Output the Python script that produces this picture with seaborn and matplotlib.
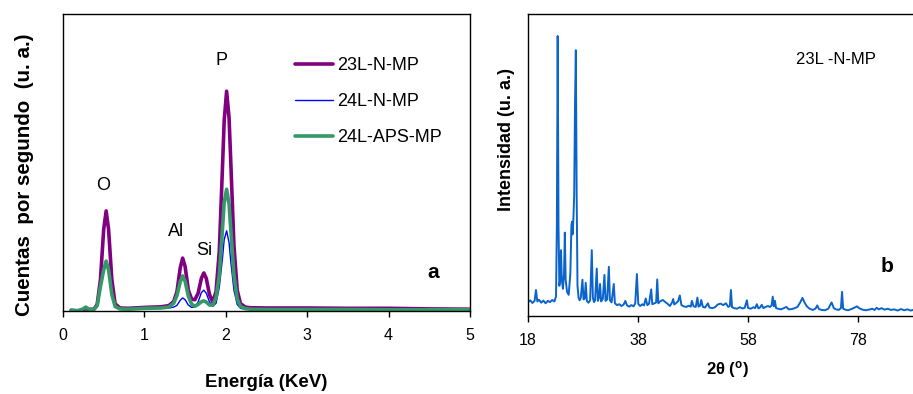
import numpy as np
import pandas as pd
import matplotlib
matplotlib.use("Agg")
import matplotlib.pyplot as plt
import seaborn as sns

# ==========================================
# EDS spectra (panel a) - counts in arbitrary units
# ==========================================
energy = [0.10, 0.18, 0.24, 0.28, 0.32, 0.38, 0.42, 0.46, 0.50, 0.53,
          0.56, 0.60, 0.64, 0.70, 0.80, 1.00, 1.20, 1.30, 1.36, 1.40,
          1.44, 1.47, 1.50, 1.54, 1.58, 1.62, 1.66, 1.70, 1.73, 1.76,
          1.80, 1.84, 1.88, 1.92, 1.96, 1.98, 2.01, 2.04, 2.06, 2.10,
          2.14, 2.18, 2.24, 2.30, 2.50, 3.00, 3.50, 4.00, 4.50, 5.00]

cps_23L_N = [0.2, 0.0, 0.3, 0.8, 0.5, 0.6, 2.2, 10.5, 27.5, 33.7,
             27.5, 10.5, 2.4, 1.0, 0.9, 1.2, 1.4, 1.8, 3.2, 6.5,
             14.5, 17.8, 15.0, 7.0, 4.0, 3.8, 6.0, 11.0, 12.8, 11.0,
             5.5, 3.0, 6.5, 20.0, 49.0, 64.0, 74.0, 65.0, 51.0, 22.0,
             7.0, 2.5, 1.3, 1.1, 1.0, 1.0, 0.9, 0.9, 0.7, 0.6]

cps_24L_N = [0.1, 0.0, 0.4, 1.0, 0.4, 0.5, 1.8, 8.0, 13.5, 16.5,
             13.5, 5.5, 1.5, 0.7, 0.6, 0.8, 0.9, 1.0, 1.3, 1.9,
             3.6, 4.4, 3.8, 2.0, 1.2, 1.4, 3.0, 6.2, 7.0, 6.0,
             3.0, 1.6, 2.6, 8.0, 18.0, 24.0, 27.0, 23.0, 17.0, 7.0,
             2.2, 0.9, 0.6, 0.5, 0.4, 0.4, 0.4, 0.4, 0.3, 0.3]

cps_24L_APS = [0.3, 0.1, 0.6, 1.3, 0.6, 0.5, 1.8, 8.2, 13.8, 16.8,
               13.8, 5.6, 1.5, 0.7, 0.6, 0.9, 1.0, 1.3, 2.6, 5.2,
               9.8, 11.8, 10.0, 5.0, 2.3, 1.6, 2.2, 3.1, 3.4, 3.0,
               2.0, 2.0, 4.5, 12.0, 28.0, 36.5, 41.0, 36.0, 28.0, 12.0,
               4.0, 1.5, 0.8, 0.6, 0.5, 0.5, 0.5, 0.4, 0.4, 0.4]

eds_names = ["23L-N-MP", "24L-N-MP", "24L-APS-MP"]
eds_colors = ["#800080", "#0000FF", "#339966"]
eds_widths = [2.6, 1.0, 2.6]

peak_labels = ["O", "Al", "Si", "P"]
peak_label_pos = [(0.49, 42.4), (1.39, 26.6), (1.73, 20.2), (1.95, 84.2)]

# ==========================================
# XRD pattern (panel b) - 23L-N-MP
# ==========================================
two_theta = [
    18.0, 18.4, 18.8, 19.2, 19.45, 19.7, 20.0, 20.4, 20.8, 21.2,
    21.6, 22.0, 22.4, 22.8, 23.1, 23.25, 23.4, 23.55, 23.7, 23.85,
    24.0, 24.15, 24.35, 24.55, 24.7, 24.85, 25.1, 25.4, 25.7, 25.9,
    26.0, 26.1, 26.25, 26.4, 26.55, 26.7, 26.85, 27.0, 27.2, 27.4,
    27.6, 27.9, 28.1, 28.3, 28.5, 28.7, 29.0, 29.3, 29.6, 29.8,
    30.0, 30.2, 30.5, 30.7, 30.9, 31.1, 31.3, 31.6, 31.9, 32.1,
    32.4, 32.7, 32.9, 33.2, 33.6, 33.8, 34.2, 34.6, 35.0, 35.4,
    35.7, 36.0, 36.4, 36.8, 37.2, 37.5, 37.8, 38.05, 38.4, 38.8,
    39.1, 39.4, 39.7, 40.0, 40.4, 40.6, 41.0, 41.3, 41.5, 41.7,
    42.0, 42.5, 43.0, 43.4, 43.8, 44.2, 44.4, 44.6, 45.0, 45.3,
    45.6, 45.9, 46.3, 46.8, 47.2, 47.6, 47.8, 48.1, 48.5, 48.8,
    49.0, 49.3, 49.5, 49.8, 50.2, 50.7, 51.0, 51.5, 52.0, 52.5,
    53.0, 53.5, 54.0, 54.4, 54.7, 54.9, 55.1, 55.5, 56.0, 56.5,
    57.0, 57.4, 57.8, 58.0, 58.5, 59.0, 59.3, 59.6, 59.9, 60.2,
    60.5, 60.8, 61.2, 61.6, 62.0, 62.3, 62.5, 62.7, 62.9, 63.1,
    63.5, 64.0, 64.5, 65.0, 65.4, 66.0, 66.5, 67.0, 67.5, 67.9,
    68.3, 68.7, 69.2, 69.8, 70.3, 70.6, 70.9, 71.4, 72.0, 72.6,
    73.2, 73.6, 74.0, 74.5, 74.9, 75.1, 75.3, 75.7, 76.2, 76.8,
    77.4, 77.8, 78.2, 78.8, 79.4, 80.0, 80.6, 81.0, 81.4, 81.8,
    82.3, 82.8, 83.4, 84.0, 84.6, 85.2, 85.8, 86.4, 87.0, 87.6,
    88.0, 88.6,
]
intensity = [
    4.5, 5.2, 4.3, 5.0, 8.6, 4.8, 5.4, 4.4, 5.1, 4.2,
    5.0, 4.6, 5.3, 4.8, 6.5, 30.0, 92.7, 30.0, 10.0, 12.0,
    21.8, 12.0, 9.0, 14.0, 27.6, 12.0, 8.0, 7.0, 14.0, 30.0,
    31.2, 27.0, 32.0, 40.0, 70.0, 88.0, 40.0, 10.0, 6.0, 5.2,
    6.0, 12.0, 5.5, 5.8, 11.0, 5.0, 4.4, 5.2, 21.8, 6.0,
    4.6, 5.2, 15.7, 5.0, 6.0, 10.6, 4.8, 5.6, 13.6, 5.0,
    5.5, 16.3, 5.2, 4.5, 10.6, 4.2, 3.6, 3.9, 3.3, 3.8,
    5.0, 3.5, 3.1, 3.6, 3.2, 4.2, 13.9, 4.0, 3.3, 3.9,
    3.5, 5.8, 3.6, 4.0, 8.8, 3.9, 4.2, 4.5, 12.1, 4.2,
    4.8, 5.3, 4.6, 4.0, 3.3, 4.5, 5.6, 3.8, 4.4, 4.9,
    6.8, 3.6, 3.2, 3.0, 3.4, 3.1, 5.0, 3.2, 3.0, 6.1,
    3.1, 3.4, 5.3, 3.0, 2.8, 4.2, 2.8, 2.6, 2.9, 3.8,
    4.1, 3.6, 4.2, 3.0, 3.3, 8.6, 2.9, 2.6, 2.4, 2.9,
    2.5, 2.7, 5.2, 2.7, 2.4, 2.9, 2.6, 3.9, 2.5, 2.8,
    3.7, 2.6, 3.0, 3.3, 3.0, 3.5, 6.4, 3.2, 5.0, 2.6,
    2.4, 2.2, 2.6, 3.0, 2.2, 2.3, 2.6, 3.0, 4.5, 6.0,
    4.4, 3.2, 2.4, 2.0, 2.5, 3.5, 2.3, 2.0, 1.9, 2.4,
    4.5, 2.6, 2.2, 2.0, 2.6, 8.0, 2.4, 2.1, 1.9, 2.3,
    2.8, 3.2, 2.6, 2.1, 1.9, 2.1, 2.4, 2.0, 2.7, 2.2,
    2.6, 2.1, 2.4, 2.0, 2.2, 1.8, 2.3, 1.9, 2.2, 1.8,
    2.0, 2.1,
]
xrd_ticks = [18, 38, 58, 78]

# ==========================================
# Figure
# ==========================================
sns.set_theme(style="white")
plt.rcParams["font.family"] = ["Liberation Sans", "DejaVu Sans"]
plt.rcParams["text.color"] = "black"
plt.rcParams["axes.labelcolor"] = "black"
plt.rcParams["xtick.color"] = "black"

fig = plt.figure(figsize=(9.13, 3.94), dpi=100)
ax_a = fig.add_axes([0.069, 0.2107, 0.4458, 0.7538])
ax_b = fig.add_axes([0.5783, 0.198, 0.425, 0.7665])

# ---- panel a ----
series = [cps_23L_N, cps_24L_N, cps_24L_APS]
for name, vals, col, lw in zip(eds_names, series, eds_colors, eds_widths):
    sns.lineplot(x=energy, y=vals, ax=ax_a, color=col, linewidth=lw,
                 label=name, solid_capstyle="round")

ax_a.set_xlim(0, 5)
ax_a.set_ylim(0, 100)
ax_a.set_yticks([])
ax_a.set_xticks([0, 1, 2, 3, 4, 5])
ax_a.tick_params(axis="x", direction="out", length=4, width=1, colors="black",
                 labelsize=11.5, pad=8, bottom=True)
ax_a.set_xlabel("Energía (KeV)", fontsize=13.5, fontweight="bold")
ax_a.xaxis.set_label_coords(0.5, -0.212)
ax_a.set_ylabel("Cuentas  por segundo  (u. a.)", fontsize=14.8,
                fontweight="bold")
ax_a.yaxis.set_label_coords(-0.071, 0.458)
for sp in ax_a.spines.values():
    sp.set_color("black")
    sp.set_linewidth(1.0)

for lab, (px, py) in zip(peak_labels, peak_label_pos):
    ax_a.text(px, py, lab, fontsize=13, ha="center", va="center")
ax_a.text(4.55, 13.1, "a", fontsize=15, fontweight="bold",
          ha="center", va="center")

leg = ax_a.legend(loc="upper left", bbox_to_anchor=(0.552, 0.879), frameon=False,
                  fontsize=13, handlelength=2.1, handletextpad=0.25,
                  labelspacing=1.05, borderaxespad=0)

# ---- panel b ----
sns.lineplot(x=two_theta, y=intensity, ax=ax_b, color="#0A64CC", linewidth=1.4)
ax_b.set_xlim(18, 88.55)
ax_b.set_ylim(0, 100)
ax_b.set_yticks([])
ax_b.set_xticks(xrd_ticks)
ax_b.tick_params(axis="x", direction="out", length=4, width=1, colors="black",
                 labelsize=11.5, pad=8, bottom=True)
ax_b.set_xlabel(r"2θ ($\mathregular{^o}$)", fontsize=12, fontweight="bold")
ax_b.xaxis.set_label_coords(0.515, -0.143)
ax_b.set_ylabel("Intensidad (u. a.)", fontsize=13, fontweight="bold")
ax_b.yaxis.set_label_coords(-0.034, 0.583)
for sp in ax_b.spines.values():
    sp.set_color("black")
    sp.set_linewidth(1.0)
ax_b.spines["right"].set_visible(False)

ax_b.text(74.0, 84.8, "23L -N-MP", fontsize=12, ha="center", va="center")
ax_b.text(83.3, 16.5, "b", fontsize=15, fontweight="bold",
          ha="center", va="center")

fig.savefig("out.png", dpi=100)
